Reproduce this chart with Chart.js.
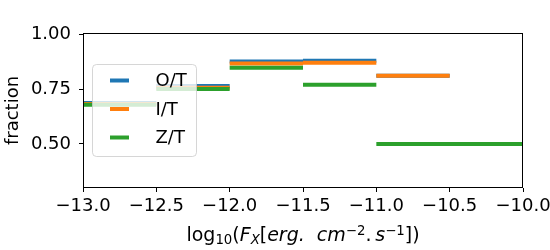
<!DOCTYPE html>
<html><head><meta charset="utf-8">
<script src="https://cdn.jsdelivr.net/npm/chart.js@4/dist/chart.umd.min.js"></script>
<style>html,body{margin:0;padding:0;background:#fff}#wrap{width:550px;height:250px;position:relative}</style>
</head><body><div id="wrap"><canvas id="c"></canvas></div>
<script>
const binEdges = [-13.0, -12.5, -12.0, -11.5, -11.0, -10.5, -10.0];
const seriesLabels = ['O/T', 'I/T', 'Z/T'];
const oT = [0.687, 0.765, 0.877, 0.881, 0.812, 0.500];
const iT = [0.683, 0.757, 0.868, 0.872, 0.812, 0.500];
const zT = [0.679, 0.752, 0.849, 0.771, 0.500, 0.499];
const xTicks = [-13.0, -12.5, -12.0, -11.5, -11.0, -10.5, -10.0];
const yTicks = [0.50, 0.75, 1.00];
const xRange = [-13.0, -10.0];
const yRange = [0.298, 1.008];
const colors = ['#1f77b4', '#ff7f0e', '#2ca02c'];
const FONT = "'DejaVu Sans', sans-serif";

function segs(vals) {
  const d = [];
  vals.forEach((v, i) => {
    d.push({x: binEdges[i], y: v}, {x: binEdges[i + 1], y: v}, {x: binEdges[i + 1], y: null});
  });
  return d;
}
const series = [oT, iT, zT];

const framePlugin = {
  id: 'frameLegend',
  afterDatasetsDraw(chart) {
    const {ctx, chartArea: ca} = chart;
    ctx.save();
    ctx.strokeStyle = '#000';
    ctx.lineWidth = 1;
    ctx.strokeRect(Math.round(ca.left) + 0.5, Math.round(ca.top) + 0.5,
      Math.round(ca.right - ca.left) - 1, Math.round(ca.bottom - ca.top) - 1);
    // legend
    const lx = ca.left + 9.5, ly = ca.top + 31.5, lw = 104, lh = 92, r = 4;
    ctx.beginPath();
    ctx.moveTo(lx + r, ly);
    ctx.arcTo(lx + lw, ly, lx + lw, ly + lh, r);
    ctx.arcTo(lx + lw, ly + lh, lx, ly + lh, r);
    ctx.arcTo(lx, ly + lh, lx, ly, r);
    ctx.arcTo(lx, ly, lx + lw, ly, r);
    ctx.closePath();
    ctx.fillStyle = 'rgba(255,255,255,0.8)';
    ctx.fill();
    ctx.strokeStyle = 'rgba(204,204,204,0.8)';
    ctx.stroke();
    chart.data.datasets.forEach((ds, i) => {
      const y = ly + 16 + i * 28.5;
      ctx.beginPath();
      ctx.strokeStyle = ds.borderColor;
      ctx.lineWidth = 4;
      ctx.lineCap = 'butt';
      ctx.moveTo(lx + 17.5, y);
      ctx.lineTo(lx + 36.5, y);
      ctx.stroke();
      ctx.fillStyle = '#000';
      ctx.font = '18px ' + FONT;
      ctx.textBaseline = 'middle';
      ctx.textAlign = 'left';
      ctx.fillText(ds.label, lx + 63, y + 1);
    });
    ctx.restore();
  },
  afterDraw(chart) {
    const {ctx, chartArea: ca} = chart;
    const S = 19, s = 13.3;
    const pieces = [
      ['log', S, '', 0], ['10', s, '', 3], ['(', S, '', 0], ['F', S, 'italic ', 0],
      ['X', s, 'italic ', 3], ['[', S, '', 0], ['erg.', S, 'italic ', 0], ['  cm', S, 'italic ', 0],
      ['\u22122', s, '', -6], ['.\u2009', S, '', 0], ['s', S, 'italic ', 0], ['\u22121', s, '', -6],
      ['])', S, '', 0]
    ];
    ctx.save();
    ctx.fillStyle = '#000';
    ctx.textBaseline = 'alphabetic';
    ctx.textAlign = 'left';
    let total = 0;
    const widths = pieces.map(p => { ctx.font = p[2] + p[1] + 'px ' + FONT; const w = ctx.measureText(p[0]).width; total += w; return w; });
    let x = (ca.left + ca.right) / 2 - total / 2;
    const base = 241;
    pieces.forEach((p, i) => {
      ctx.font = p[2] + p[1] + 'px ' + FONT;
      ctx.fillText(p[0], x, base + p[3]);
      x += widths[i];
    });
    ctx.restore();
  }
};

new Chart(document.getElementById('c'), {
  type: 'line',
  data: {
    datasets: series.map((s, i) => ({
      label: seriesLabels[i],
      data: segs(s),
      borderColor: colors[i],
      backgroundColor: colors[i],
      borderWidth: 4,
      pointRadius: 0,
      pointHoverRadius: 0,
      tension: 0,
      spanGaps: false,
      fill: false,
      order: 3 - i
    }))
  },
  options: {
    responsive: true,
    maintainAspectRatio: false,
    animation: false,
    layout: {padding: {top: 33, right: 27, left: 0, bottom: 0}},
    plugins: {legend: {display: false}, tooltip: {enabled: false}},
    scales: {
      x: {
        type: 'linear', min: xRange[0], max: xRange[1],
        afterBuildTicks: s => { s.ticks = xTicks.map(v => ({value: v})); },
        afterFit: s => { s.height = 62; s.paddingLeft = 0; s.paddingRight = 0; },
        ticks: {
          font: {size: 18, family: FONT}, color: '#000', padding: 4, maxRotation: 0, autoSkip: false,
          callback: v => (v < 0 ? '\u2212' : '') + Math.abs(v).toFixed(1)
        },
        grid: {display: true, drawOnChartArea: false, drawTicks: true, tickLength: 4, tickColor: '#000', tickWidth: 1},
        border: {display: false}
      },
      y: {
        type: 'linear', min: yRange[0], max: yRange[1],
        afterBuildTicks: s => { s.ticks = yTicks.map(v => ({value: v})); },
        afterFit: s => { s.width = 83; s.paddingTop = 0; s.paddingBottom = 0; },
        ticks: {
          font: {size: 18, family: FONT}, color: '#000', padding: 8, autoSkip: false,
          callback: v => v.toFixed(2)
        },
        title: {display: true, text: 'fraction', font: {size: 18, family: FONT}, color: '#000', padding: {top: 3, bottom: 0}},
        grid: {display: true, drawOnChartArea: false, drawTicks: true, tickLength: 4, tickColor: '#000', tickWidth: 1},
        border: {display: false}
      }
    }
  },
  plugins: [framePlugin]
});
</script>
</body></html>
